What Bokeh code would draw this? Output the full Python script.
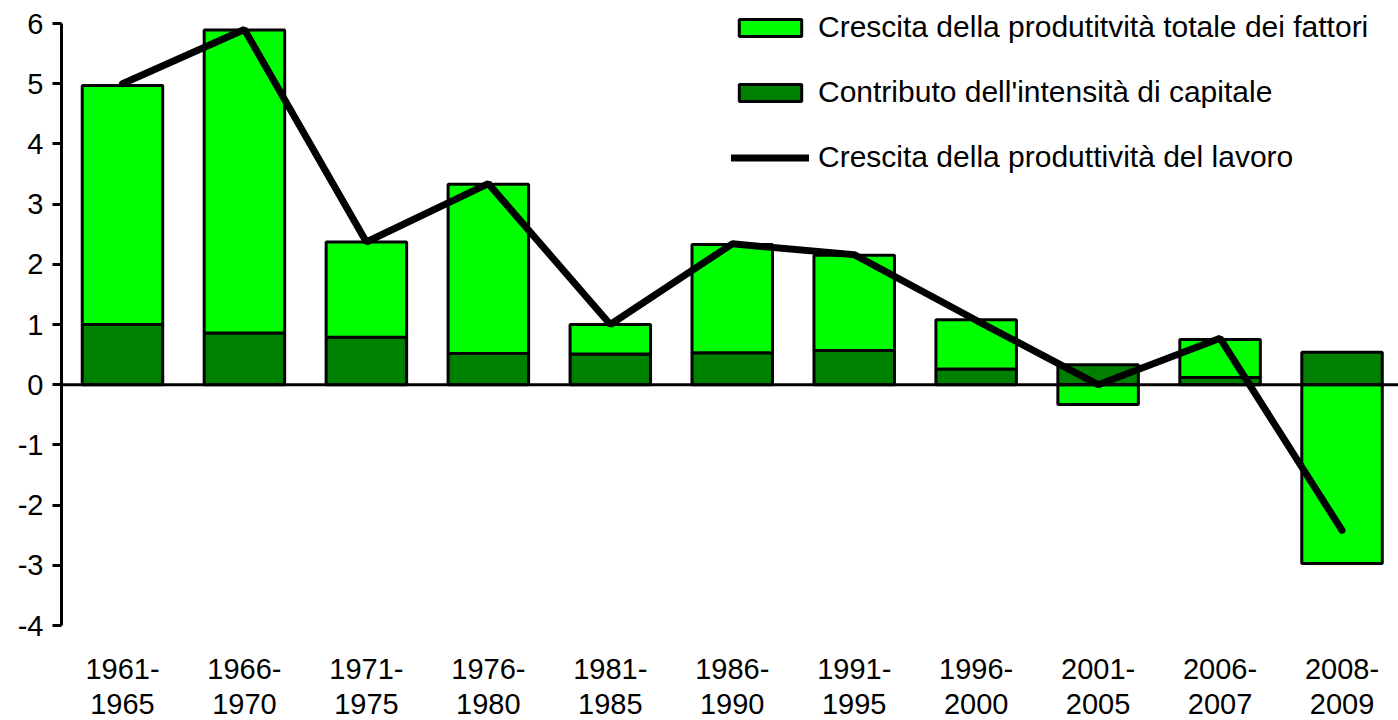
from bokeh.plotting import figure
from bokeh.models import Range1d, FixedTicker, Span, Legend, LegendItem, ColumnDataSource, LabelSet
from bokeh.core.properties import value
from bokeh.embed import file_html
from bokeh.resources import INLINE

periods = ["1961-\n1965", "1966-\n1970", "1971-\n1975", "1976-\n1980", "1981-\n1985",
           "1986-\n1990", "1991-\n1995", "1996-\n2000", "2001-\n2005", "2006-\n2007",
           "2008-\n2009"]
capital = [1.00, 0.86, 0.79, 0.52, 0.51, 0.53, 0.57, 0.26, 0.33, 0.12, 0.54]
tfp = [3.97, 5.03, 1.58, 2.81, 0.49, 1.80, 1.58, 0.82, -0.33, 0.63, -2.97]
labour = [5.00, 5.90, 2.37, 3.34, 1.00, 2.34, 2.16, 1.07, 0.00, 0.77, -2.42]
y_ticks = [-4, -3, -2, -1, 0, 1, 2, 3, 4, 5, 6]
y_min, y_max = -4, 6

xs = list(range(len(periods)))
tfp_bottom = [c if t >= 0 else 0 for c, t in zip(capital, tfp)]
tfp_top = [c + t if t >= 0 else t for c, t in zip(capital, tfp)]
line1 = [s.split("\n")[0] for s in periods]
line2 = [s.split("\n")[1] for s in periods]

src = ColumnDataSource(dict(x=xs, cap=capital, tb=tfp_bottom, tt=tfp_top, lab=labour,
                            l1=line1, l2=line2, ybase=[y_min] * len(xs)))

# layout: the frame fills the canvas vertically; the axis itself spans y_min..y_max
H = 720
TOP_PX, BOTTOM_PX = 23, 95          # space above y_max and below y_min
px_per_unit = (H - TOP_PX - BOTTOM_PX) / (y_max - y_min)
yr = Range1d(y_min - BOTTOM_PX / px_per_unit, y_max + TOP_PX / px_per_unit)

FONT = "Liberation Sans"
p = figure(width=1398, height=H, output_backend="svg", toolbar_location=None,
           x_range=Range1d(-0.5, 10.463), y_range=yr,
           min_border_left=61, min_border_right=0, min_border_top=0, min_border_bottom=0)
p.outline_line_color = None
p.grid.visible = False
p.background_fill_color = "white"
p.xaxis.visible = False

p.add_layout(Span(location=0, dimension="width", line_color="black", line_width=3))

r_cap = p.vbar(x="x", width=0.66, bottom=0, top="cap", source=src,
               fill_color="#008000", line_color="black", line_width=3)
r_tfp = p.vbar(x="x", width=0.66, bottom="tb", top="tt", source=src,
               fill_color="#00ff00", line_color="black", line_width=3)
r_lab = p.line(x="x", y="lab", source=src, line_color="black", line_width=7,
               line_cap="round")

# y axis
ya = p.yaxis[0]
ya.ticker = FixedTicker(ticks=y_ticks)
ya.bounds = (y_min, y_max)
ya.major_label_overrides = {t: str(t) for t in y_ticks}
ya.axis_line_width = 3
ya.major_tick_line_width = 3
ya.major_tick_out = 9
ya.major_tick_in = 0
ya.minor_tick_line_color = None
ya.major_label_text_font = FONT
ya.major_label_text_font_size = "29px"
ya.major_label_text_color = "black"
ya.major_label_standoff = 9

# category labels (two lines) below the axis minimum
for col, off in (("l1", -43), ("l2", -78)):
    p.add_layout(LabelSet(x="x", y="ybase", text=col, source=src, y_offset=off,
                          text_align="center", text_baseline="middle",
                          text_font=value(FONT), text_font_size=value("29px"),
                          text_color="black"))

legend = Legend(items=[
    LegendItem(label="Crescita della produtitvità totale dei fattori", renderers=[r_tfp]),
    LegendItem(label="Contributo dell'intensità di capitale", renderers=[r_cap]),
    LegendItem(label="Crescita della produttività del lavoro", renderers=[r_lab]),
], location=(670, 546), orientation="vertical",
    label_text_font=FONT, label_text_font_size="30px", label_text_color="black",
    glyph_width=78, glyph_height=21, label_standoff=9, spacing=31, padding=0,
    margin=0, border_line_color=None, background_fill_alpha=0)
p.add_layout(legend)

open("out.html", "w").write(file_html(p, INLINE))
